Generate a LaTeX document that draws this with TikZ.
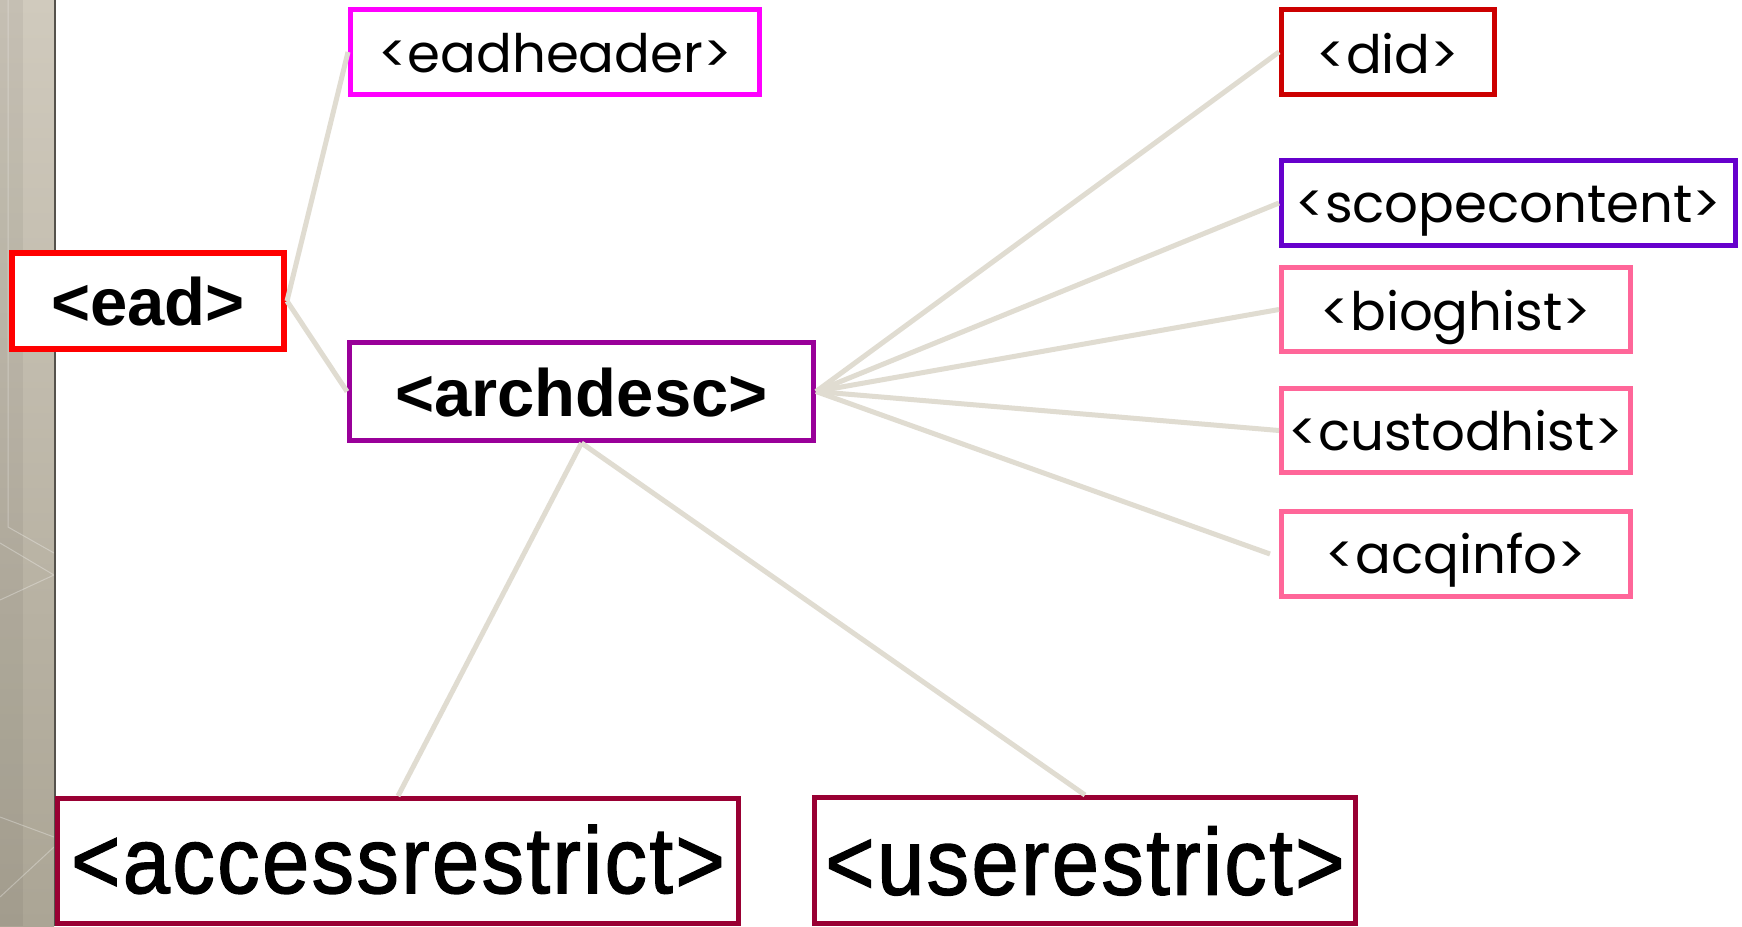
\documentclass[tikz,border=0pt]{standalone}
\usepackage{fontspec}
\usepackage{graphicx}
\setmainfont{Liberation Sans}
\newfontfamily\thinfont{Poppins}
\newfontfamily\medfont{Liberation Sans}[FakeBold=1.6, LetterSpace=3]
\definecolor{cEad}{HTML}{FF0000}
\definecolor{cHeader}{HTML}{FF00FF}
\definecolor{cDid}{HTML}{CC0000}
\definecolor{cScope}{HTML}{6600CC}
\definecolor{cPink}{HTML}{FF6699}
\definecolor{cArch}{HTML}{990099}
\definecolor{cRestr}{HTML}{990033}
\definecolor{cLink}{HTML}{E0DCD1}
\definecolor{stripeTop}{HTML}{D0CABD}
\definecolor{stripeBot}{HTML}{ABA595}
\definecolor{stripeEdge}{HTML}{55524C}
\begin{document}
\begin{tikzpicture}[x=1pt,y=-1pt,
  tagbox/.style={draw, line width=5pt, inner sep=0pt, fill=white, text depth=0pt, anchor=center},
  boldtag/.style={font=\fontsize{67}{80}\selectfont\bfseries},
  bigtag/.style={font=\fontsize{94}{110}\selectfont\medfont},
  thintag/.style={font=\fontsize{53}{64}\selectfont\thinfont},
  link/.style={draw=cLink, line width=5pt}]
\useasboundingbox (0,0) rectangle (1742,926);
\fill[white] (0,0) rectangle (1742,926);
% left decorative stripe
\shade[top color=stripeTop, bottom color=stripeBot] (0,0) rectangle (54,926);
\fill[black, opacity=0.05] (0,0) rectangle (23,926);
\begin{scope}[draw=white, opacity=0.3, line width=1pt]
  \draw (8,0) -- (8,527) -- (54,553);
  \draw (0,543) -- (54,575) -- (0,600);
  \draw (0,817) -- (54,837);
  \draw (0,897) -- (54,847);
\end{scope}
\fill[stripeEdge] (54,0) rectangle (56,926);
% boxes
\node[tagbox, draw=cEad, line width=6pt, minimum width=272pt, minimum height=96pt, text height=48pt, boldtag] (ead) at (148,301) {<ead>};
\node[tagbox, draw=cHeader, minimum width=409pt, minimum height=85pt, text height=40pt, thintag] (header) at (555,52) {<eadheader>};
\node[tagbox, draw=cArch, minimum width=464pt, minimum height=98pt, text height=49pt, boldtag] (arch) at (581.5,391.5) {<archdesc>};
\node[tagbox, draw=cDid, minimum width=213pt, minimum height=85pt, text height=42pt, thintag] (did) at (1388,52) {<did>};
\node[tagbox, draw=cScope, minimum width=454pt, minimum height=85pt, text height=38pt, thintag] (scope) at (1508.5,203) {<scopecontent>};
\node[tagbox, draw=cPink, minimum width=349pt, minimum height=84pt, text height=41pt, thintag] (bio) at (1456,309.5) {<bioghist>};
\node[tagbox, draw=cPink, minimum width=349pt, minimum height=84pt, text height=39pt, thintag] (cust) at (1456,430.5) {<custodhist>};
\node[tagbox, draw=cPink, minimum width=349pt, minimum height=85pt, text height=38pt, thintag] (acq) at (1456,554) {<acqinfo>};
\node[tagbox, draw=cRestr, minimum width=681pt, minimum height=125pt, text height=64pt, bigtag] (access) at (398,861) {\scalebox{0.9}[1]{<accessrestrict>}};
\node[tagbox, draw=cRestr, minimum width=541pt, minimum height=126pt, text height=68pt, bigtag] (use) at (1085,860.5) {\scalebox{0.9}[1]{<userestrict>}};
\coordinate (acqend) at ([xshift=-9pt]acq.west);
% connectors
\draw[link] (ead.east) -- (header.west);
\draw[link] (ead.east) -- (arch.west);
\draw[link] (arch.east) -- (did.west);
\draw[link] (arch.east) -- (scope.west);
\draw[link] (arch.east) -- (bio.west);
\draw[link] (arch.east) -- (cust.west);
\draw[link] (arch.east) -- (acqend);
\draw[link] (arch.south) -- (access.north);
\draw[link] (arch.south) -- (use.north);
\end{tikzpicture}
\end{document}
